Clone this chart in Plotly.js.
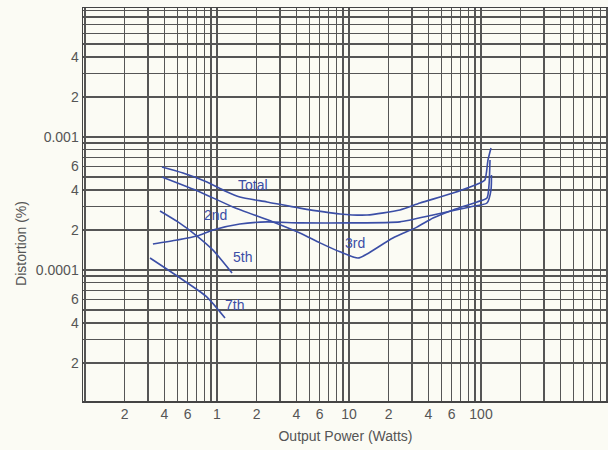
<!DOCTYPE html>
<html>
<head>
<meta charset="utf-8">
<script src="https://cdn.plot.ly/plotly-3.0.1.min.js"></script>
<style>
html,body{margin:0;padding:0;background:#fbfbf4;}
#chart{width:608px;height:450px;}
</style>
</head>
<body>
<div id="chart"></div>
<script>
// Output power (W) and distortion (%)
const totalX = [0.383, 0.553, 0.84, 1.15, 1.49, 2.39, 4.25, 8.55, 13.7, 24.3, 34.5, 61.4, 98.3, 107, 113, 119];
const totalY = [5.95e-4, 5.36e-4, 4.59e-4, 3.93e-4, 3.54e-4, 3.25e-4, 2.92e-4, 2.64e-4, 2.59e-4, 2.83e-4, 3.19e-4, 3.79e-4, 4.51e-4, 4.75e-4, 6.72e-4, 8.27e-4];

const secondX = [0.327, 0.498, 0.706, 0.933, 1.49, 2.39, 4.25, 10.2, 24.3, 43.3, 82.5, 111, 119, 120];
const secondY = [1.57e-4, 1.68e-4, 1.80e-4, 2.00e-4, 2.22e-4, 2.30e-4, 2.26e-4, 2.26e-4, 2.30e-4, 2.59e-4, 2.98e-4, 3.19e-4, 3.99e-4, 5.18e-4];

const thirdX = [0.383, 0.743, 1.32, 2.66, 4.25, 6.03, 8.55, 11.7, 13.7, 21.5, 32.7, 43.3, 61.4, 93.3, 111, 115, 117];
const thirdY = [5.00e-4, 3.86e-4, 2.98e-4, 2.30e-4, 1.90e-4, 1.60e-4, 1.37e-4, 1.23e-4, 1.32e-4, 1.74e-4, 2.10e-4, 2.46e-4, 2.83e-4, 3.25e-4, 3.48e-4, 4.36e-4, 6.72e-4];

const fifthX = [0.370, 0.506, 0.706, 0.933, 1.30];
const fifthY = [2.78e-4, 2.30e-4, 1.80e-4, 1.41e-4, 9.5e-5];

const seventhX = [0.311, 0.553, 0.840, 1.15];
const seventhY = [1.23e-4, 8.41e-5, 6.26e-5, 4.36e-5];

// Tick labels
const xLabelVals = [0.2, 0.4, 0.6, 1, 2, 4, 6, 10, 20, 40, 60, 100];
const xLabelText = ["2", "4", "6", "1", "2", "4", "6", "10", "2", "4", "6", "100"];
const yLabelVals = [2e-5, 4e-5, 6e-5, 1e-4, 2e-4, 4e-4, 6e-4, 1e-3, 2e-3, 4e-3];
const yLabelText = ["2", "4", "6", "0.0001", "2", "4", "6", "0.001", "2", "4"];

// Curve labels
const curveNames = ["Total", "2nd", "3rd", "5th", "7th"];
const curveLabelX = [1.87, 0.966, 11.1, 1.57, 1.35];
const curveLabelY = [4.36e-4, 2.59e-4, 1.60e-4, 1.25e-4, 5.46e-5];

function gridTicks(kFrom, kTo, labVals, labText) {
  const vals = [], text = [];
  for (let k = kFrom; k <= kTo; k++) {
    for (let n = 1; n <= 9; n++) {
      const v = parseFloat((n * Math.pow(10, k)).toPrecision(6));
      vals.push(v);
      let t = "";
      for (let i = 0; i < labVals.length; i++) {
        if (Math.abs(labVals[i] - v) / v < 1e-6) t = labText[i];
      }
      text.push(t);
    }
  }
  return {vals, text};
}
const xt = gridTicks(-1, 2, xLabelVals, xLabelText);
const yt = gridTicks(-5, -3, yLabelVals, yLabelText);

const blue = '#3b4ea6';
const lineStyle = {color: blue, width: 1.6, shape: 'spline', smoothing: 0.6};
const series = [[totalX, totalY], [secondX, secondY], [thirdX, thirdY], [fifthX, fifthY], [seventhX, seventhY]];
const traces = series.map((s, i) => ({
  x: s[0], y: s[1], type: 'scatter', mode: 'lines', name: curveNames[i],
  line: lineStyle, hoverinfo: 'skip'
}));

const annotations = curveNames.map((n, i) => ({
  x: Math.log10(curveLabelX[i]), y: Math.log10(curveLabelY[i]), xref: 'x', yref: 'y',
  text: n, showarrow: false, font: {family: 'Liberation Sans, Arial, sans-serif', size: 14, color: blue}
}));
annotations.push({
  xref: 'paper', yref: 'paper', x: -0.137, y: 0.40, text: 'Distortion (%)', textangle: -90,
  showarrow: false, font: {family: 'Liberation Sans, Arial, sans-serif', size: 14, color: '#555'}
});

const gridColor = '#555';
const layout = {
  width: 608, height: 450,
  margin: {l: 83, r: 0, t: 8, b: 49},
  paper_bgcolor: '#fbfbf4', plot_bgcolor: '#fbfbf4',
  showlegend: false,
  font: {family: 'Liberation Sans, Arial, sans-serif', size: 14, color: '#555'},
  xaxis: {
    type: 'log', range: [-1.015, 2.962],
    tickmode: 'array', tickvals: xt.vals, ticktext: xt.text,
    showgrid: true, gridcolor: gridColor, gridwidth: 1.2,
    showline: true, linecolor: '#444', linewidth: 1.5, mirror: true,
    ticks: '', zeroline: false,
    title: {text: 'Output Power (Watts)', font: {size: 14, color: '#555'}, standoff: 10}
  },
  yaxis: {
    type: 'log', range: [-4.985, -2.03],
    tickmode: 'array', tickvals: yt.vals, ticktext: yt.text,
    showgrid: true, gridcolor: gridColor, gridwidth: 1.2,
    showline: true, linecolor: '#444', linewidth: 1.5, mirror: true,
    ticks: '', zeroline: false
  },
  annotations: annotations
};

Plotly.newPlot('chart', traces, layout, {staticPlot: true, displayModeBar: false});
</script>
</body>
</html>
